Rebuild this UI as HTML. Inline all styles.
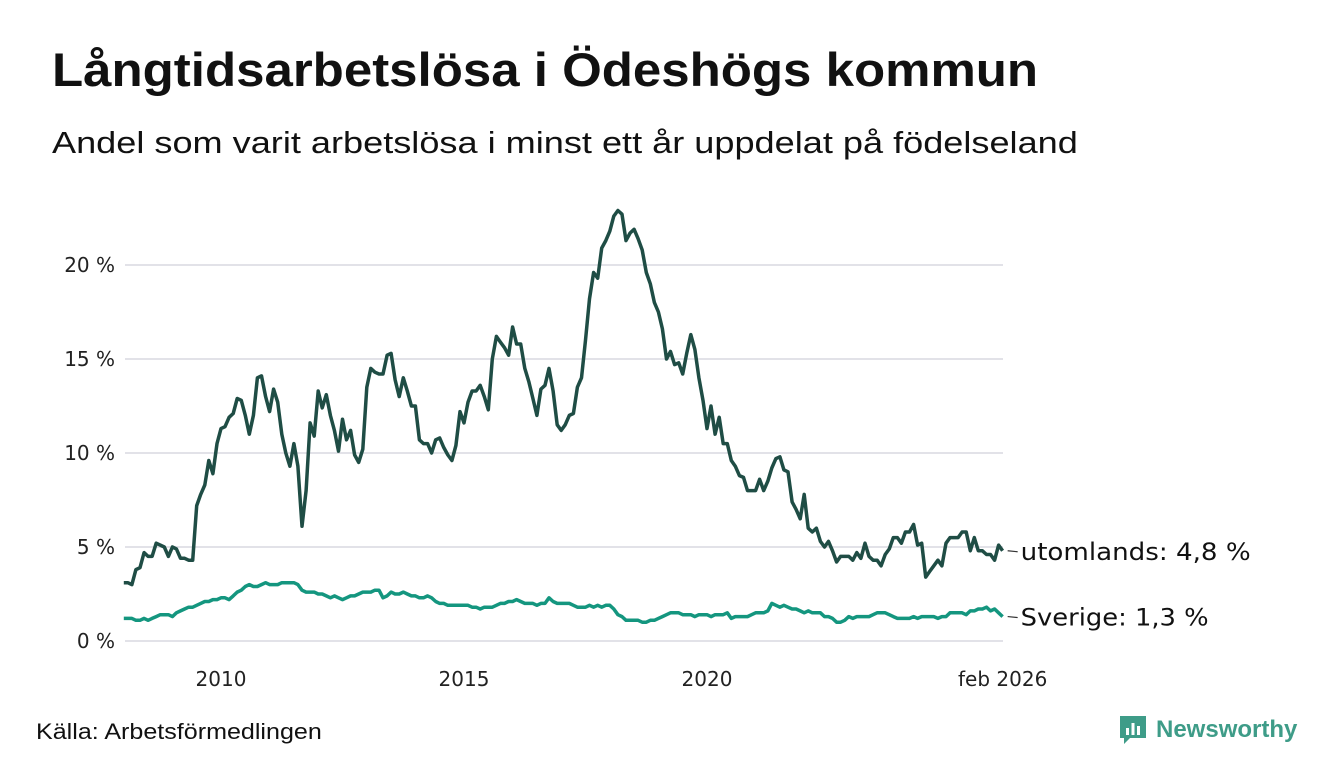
<!DOCTYPE html>
<html><head><meta charset="utf-8"><style>
body{margin:0;background:#fff;font-family:"Liberation Sans","DejaVu Sans",sans-serif;}
#wrap{position:relative;width:1340px;height:780px;overflow:hidden;}
h1{position:absolute;left:52px;top:42px;margin:0;font-size:47px;font-weight:bold;color:#111;white-space:nowrap;transform:scaleX(1.085);transform-origin:left top}
.sub{position:absolute;left:52px;top:125px;font-size:31px;color:#111;white-space:nowrap;transform:scaleX(1.165);transform-origin:left top}
.src{position:absolute;left:36px;top:719px;font-size:22px;color:#111;white-space:nowrap;transform:scaleX(1.14);transform-origin:left top}
.logo{position:absolute;left:1118px;top:714px;display:flex;align-items:center;gap:8px;font-size:24px;font-weight:bold;color:#3e9c88}
</style></head><body>
<div id="wrap">
<h1>Långtidsarbetslösa i Ödeshögs kommun</h1>
<div class="sub">Andel som varit arbetslösa i minst ett år uppdelat på födelseland</div>
<svg id="chart" width="1340" height="780" style="position:absolute;left:0;top:0"></svg>
<div class="src">Källa: Arbetsförmedlingen</div>
<div class="logo">
<svg width="30" height="32" viewBox="0 0 30 32"><path d="M2 2h26v22H12l-6 6v-6H2z" fill="#3e9c88"/><rect x="8" y="14" width="3" height="7" fill="#fff"/><rect x="13.5" y="9" width="3" height="12" fill="#fff"/><rect x="19" y="12" width="3" height="9" fill="#fff"/></svg>
<span>Newsworthy</span></div>
</div>
<script>
const yTicks=[0,5,10,15,20];
const yTickLabels=["0 %","5 %","10 %","15 %","20 %"];
const xTicks=[2010,2015,2020];
const xTickLabels=["2010","2015","2020"];
const startYear=2008;
const lastLabel="feb 2026";
const utomlands=[3.1,3.1,3.0,3.8,3.9,4.7,4.5,4.5,5.2,5.1,5.0,4.5,
5.0,4.9,4.4,4.4,4.3,4.3,7.2,7.8,8.3,9.6,8.9,10.5,
11.3,11.4,11.9,12.1,12.9,12.8,12.0,11.0,12.0,14.0,14.1,13.0,
12.2,13.4,12.7,11.0,10.0,9.3,10.5,9.3,6.1,8.0,11.6,10.9,
13.3,12.4,13.1,12.0,11.2,10.1,11.8,10.7,11.2,9.9,9.5,10.2,
13.5,14.5,14.3,14.2,14.2,15.2,15.3,13.9,13.0,14.0,13.3,12.5,
12.5,10.7,10.5,10.5,10.0,10.7,10.8,10.3,9.9,9.6,10.4,12.2,
11.6,12.7,13.3,13.3,13.6,13.0,12.3,15.0,16.2,15.9,15.6,15.2,
16.7,15.8,15.8,14.5,13.8,12.9,12.0,13.4,13.6,14.5,13.3,11.5,
11.2,11.5,12.0,12.1,13.5,14.0,16.0,18.2,19.6,19.3,20.9,21.3,
21.8,22.6,22.9,22.7,21.3,21.7,21.9,21.4,20.8,19.6,19.0,18.0,
17.5,16.6,15.0,15.4,14.7,14.8,14.2,15.3,16.3,15.5,14.0,12.8,
11.3,12.5,11.0,11.9,10.5,10.5,9.6,9.3,8.8,8.7,8.0,8.0,
8.0,8.6,8.0,8.5,9.2,9.7,9.8,9.1,9.0,7.4,7.0,6.5,
7.8,6.0,5.8,6.0,5.3,5.0,5.3,4.8,4.2,4.5,4.5,4.5,
4.3,4.7,4.4,5.2,4.5,4.3,4.3,4.0,4.6,4.9,5.5,5.5,
5.2,5.8,5.8,6.2,5.1,5.2,3.4,3.7,4.0,4.3,4.0,5.2,
5.5,5.5,5.5,5.8,5.8,4.8,5.5,4.8,4.8,4.6,4.6,4.3,
5.1,4.8];
const sverige=[1.2,1.2,1.2,1.1,1.1,1.2,1.1,1.2,1.3,1.4,1.4,1.4,
1.3,1.5,1.6,1.7,1.8,1.8,1.9,2.0,2.1,2.1,2.2,2.2,
2.3,2.3,2.2,2.4,2.6,2.7,2.9,3.0,2.9,2.9,3.0,3.1,
3.0,3.0,3.0,3.1,3.1,3.1,3.1,3.0,2.7,2.6,2.6,2.6,
2.5,2.5,2.4,2.3,2.4,2.3,2.2,2.3,2.4,2.4,2.5,2.6,
2.6,2.6,2.7,2.7,2.3,2.4,2.6,2.5,2.5,2.6,2.5,2.4,
2.4,2.3,2.3,2.4,2.3,2.1,2.0,2.0,1.9,1.9,1.9,1.9,
1.9,1.9,1.8,1.8,1.7,1.8,1.8,1.8,1.9,2.0,2.0,2.1,
2.1,2.2,2.1,2.0,2.0,2.0,1.9,2.0,2.0,2.3,2.1,2.0,
2.0,2.0,2.0,1.9,1.8,1.8,1.8,1.9,1.8,1.9,1.8,1.9,
1.9,1.7,1.4,1.3,1.1,1.1,1.1,1.1,1.0,1.0,1.1,1.1,
1.2,1.3,1.4,1.5,1.5,1.5,1.4,1.4,1.4,1.3,1.4,1.4,
1.4,1.3,1.4,1.4,1.4,1.5,1.2,1.3,1.3,1.3,1.3,1.4,
1.5,1.5,1.5,1.6,2.0,1.9,1.8,1.9,1.8,1.7,1.7,1.6,
1.5,1.6,1.5,1.5,1.5,1.3,1.3,1.2,1.0,1.0,1.1,1.3,
1.2,1.3,1.3,1.3,1.3,1.4,1.5,1.5,1.5,1.4,1.3,1.2,
1.2,1.2,1.2,1.3,1.2,1.3,1.3,1.3,1.3,1.2,1.3,1.3,
1.5,1.5,1.5,1.5,1.4,1.6,1.6,1.7,1.7,1.8,1.6,1.7,
1.5,1.3];
const NS="http://www.w3.org/2000/svg";
const svg=document.getElementById('chart');
const FONT='DejaVu Sans, Liberation Sans, sans-serif';
function xs(t){return 221+(t-2010)*48.6;}
function ys(v){return 641-v*18.8;}
function tOf(i){return startYear+i/12;}
function mk(tag,attrs){const e=document.createElementNS(NS,tag);for(const k in attrs)e.setAttribute(k,attrs[k]);svg.appendChild(e);return e;}
yTicks.forEach((v,i)=>{
  const l=mk('line',{x1:125,x2:1003,y1:ys(v),y2:ys(v),stroke:'#e2e2e8','stroke-width':2});
  
  
  const t=mk('text',{x:115,y:ys(v)+7,'text-anchor':'end','font-size':20,fill:'#222','font-family':FONT});
  t.textContent=yTickLabels[i];
  
  
});
xTicks.forEach((v,i)=>{
  const t=mk('text',{x:xs(v),y:686,'text-anchor':'middle','font-size':20,fill:'#222','font-family':FONT});
  t.textContent=xTickLabels[i];
  
  
});
const lastT=tOf(utomlands.length-1);
const lt=mk('text',{x:xs(lastT),y:686,'text-anchor':'middle','font-size':20,fill:'#222','font-family':FONT});
lt.textContent=lastLabel;


function drawSeries(arr,color,name,label,tlen){
  const d=arr.map((v,i)=>(i?'L':'M')+xs(tOf(i)).toFixed(1)+','+ys(v).toFixed(1)).join('');
  const p=mk('path',{d:d,fill:'none',stroke:color,'stroke-width':3.5,'stroke-linejoin':'round'});
  
  
  const lx=xs(tOf(arr.length-1)), ly=ys(arr[arr.length-1]);
  const c=mk('line',{x1:lx+5,x2:lx+15,y1:ly,y2:ly+1,stroke:'#333','stroke-width':1.2});
  
  
  const t=mk('text',{x:lx+18,y:ly+9,'font-size':24,fill:'#111','font-family':FONT,textLength:tlen,lengthAdjust:'spacingAndGlyphs'});
  t.textContent=label+': '+arr[arr.length-1].toFixed(1).replace('.',',')+' %';
  
  
}
drawSeries(sverige,'#14967f','sverige','Sverige',188);
drawSeries(utomlands,'#1f4d45','utomlands','utomlands',230);
</script>
</body></html>
